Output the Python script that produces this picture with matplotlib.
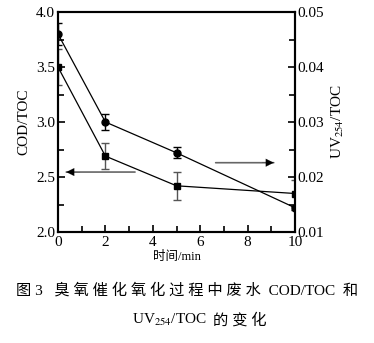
import matplotlib
matplotlib.use("Agg")
import matplotlib.pyplot as plt
from matplotlib.ticker import MultipleLocator, FormatStrFormatter

plt.rcParams['font.family'] = ['Liberation Serif', 'Noto Sans CJK SC']
plt.rcParams['mathtext.fontset'] = 'stix'

# time points
t = [0, 2, 5, 10]
# COD/TOC (left axis, squares)
cod_toc = [3.5, 2.69, 2.42, 2.35]
cod_err = [0.165, 0.12, 0.125, 0.12]
# UV254/TOC (right axis, circles)
uv_toc = [0.046, 0.030, 0.0244, 0.0144]
uv_err = [0.002, 0.0015, 0.001, 0.0004]

fig = plt.figure(figsize=(3.74, 3.43), dpi=100)
ax1 = fig.add_axes([0.155, 0.3236, 0.634, 0.6414])
ax2 = ax1.twinx()

ax1.errorbar(t, cod_toc, yerr=cod_err, color='black', ecolor='#555555',
             marker='s', ms=4.5, lw=0.9, elinewidth=1.0, capsize=3, capthick=1.0)
ax2.errorbar(t, uv_toc, yerr=uv_err, color='black', ecolor='black',
             marker='o', ms=5, lw=0.9, elinewidth=1.0, capsize=3, capthick=1.0)

ax1.set_xlim(0, 10)
ax1.set_ylim(2.0, 4.0)
ax2.set_ylim(0.01, 0.05)

ax1.xaxis.set_major_locator(MultipleLocator(2))
ax1.xaxis.set_minor_locator(MultipleLocator(1))
ax1.yaxis.set_major_locator(MultipleLocator(0.5))
ax1.yaxis.set_minor_locator(MultipleLocator(0.25))
ax2.yaxis.set_major_locator(MultipleLocator(0.01))
ax2.yaxis.set_minor_locator(MultipleLocator(0.005))

ax1.yaxis.set_major_formatter(FormatStrFormatter('%.1f'))
ax2.yaxis.set_major_formatter(FormatStrFormatter('%.2f'))

for ax in (ax1, ax2):
    ax.tick_params(which='both', direction='in', labelsize=11, width=1.2, pad=2)
    ax.tick_params(which='major', length=5)
    ax.tick_params(which='minor', length=4)
    for s in ax.spines.values():
        s.set_linewidth(1.5)
ax1.tick_params(axis='x', top=False, pad=3)
# lift the lowest right tick label a little so it clears the "10"
ax2.yaxis.get_major_ticks()[0].label2.set_va('baseline')

ax1.set_ylabel('COD/TOC', fontsize=11, labelpad=4)
ax2.set_ylabel('UV$_{254}$/TOC', fontsize=11, rotation=90, labelpad=4)
ax1.set_xlabel('时间/min', fontsize=9, labelpad=1)

# arrows pointing to the axis of each series: gray shaft, black head
for x0, x1, yy in [(3.25, 0.35, 2.545), (6.65, 9.1, 2.63)]:
    ax1.annotate('', xy=(x1, yy), xytext=(x0, yy),
                 arrowprops=dict(arrowstyle='-', color='#666666', lw=1.2,
                                 shrinkA=0, shrinkB=0))
    ax1.annotate('', xy=(x1, yy), xytext=(x1 + (x0 - x1) * 0.2, yy),
                 arrowprops=dict(arrowstyle='-|>', color='black', lw=0.1,
                                 mutation_scale=14, shrinkA=0, shrinkB=0))

fig.text(0.5, 0.155, '图 3   臭 氧 催 化 氧 化 过 程 中 废 水  COD/TOC  和',
         ha='center', va='center', fontsize=11)
fig.text(207 / 374, 0.067, 'UV$_{254}$/TOC', ha='right', va='center', fontsize=11)
fig.text(213 / 374, 0.067, '的 变 化', ha='left', va='center', fontsize=11)

fig.savefig('out.png', dpi=100)
